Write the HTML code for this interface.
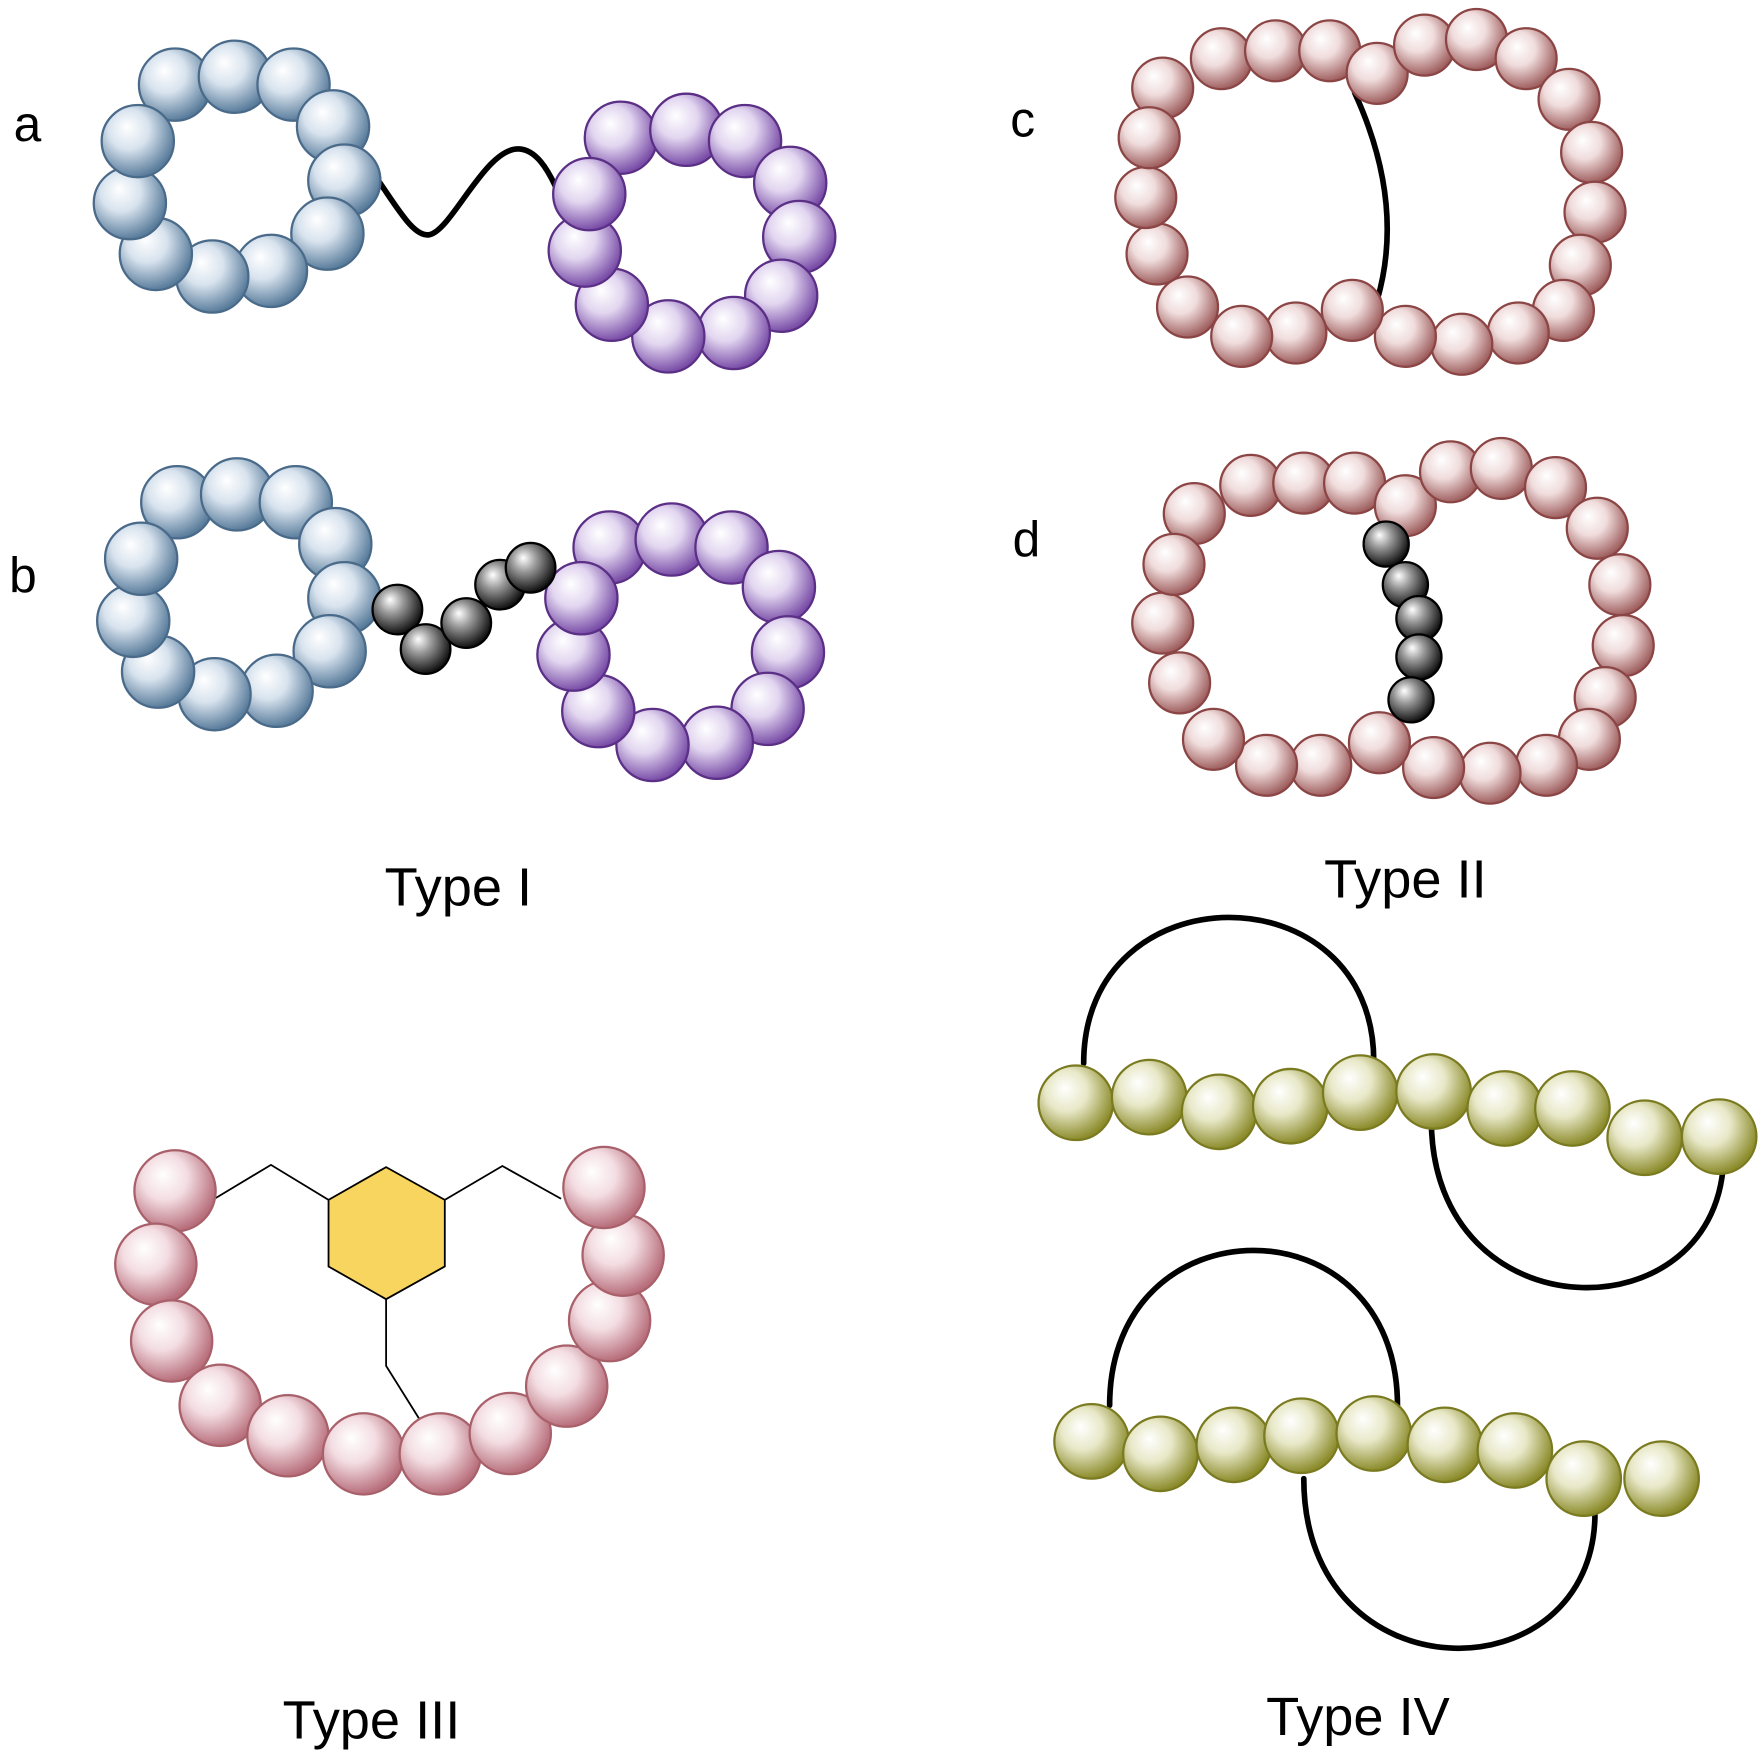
<!DOCTYPE html>
<html><head><meta charset="utf-8"><style>html,body{margin:0;padding:0;background:#fff}svg{display:block}</style></head>
<body>
<svg xmlns="http://www.w3.org/2000/svg" width="1761" height="1762" viewBox="0 0 1560 1561">
<defs>
<radialGradient id="gb" cx="0.4" cy="0.38" r="0.62" fx="0.35" fy="0.3"><stop offset="0" stop-color="#fff"/><stop offset="0.45" stop-color="#d8e3ee"/><stop offset="1" stop-color="#5a7d9c"/></radialGradient>
<radialGradient id="gp" cx="0.4" cy="0.38" r="0.62" fx="0.35" fy="0.3"><stop offset="0" stop-color="#fff"/><stop offset="0.45" stop-color="#e2d6f0"/><stop offset="1" stop-color="#7a4ea8"/></radialGradient>
<radialGradient id="gr" cx="0.4" cy="0.38" r="0.62" fx="0.35" fy="0.3"><stop offset="0" stop-color="#fff"/><stop offset="0.45" stop-color="#f0dcdc"/><stop offset="1" stop-color="#a06060"/></radialGradient>
<radialGradient id="gq" cx="0.4" cy="0.38" r="0.62" fx="0.35" fy="0.3"><stop offset="0" stop-color="#fff"/><stop offset="0.45" stop-color="#f3dde2"/><stop offset="1" stop-color="#b86f7c"/></radialGradient>
<radialGradient id="go" cx="0.4" cy="0.38" r="0.62" fx="0.35" fy="0.3"><stop offset="0" stop-color="#fff"/><stop offset="0.45" stop-color="#e8e8c8"/><stop offset="1" stop-color="#8c8c2c"/></radialGradient>
<radialGradient id="gk" cx="0.4" cy="0.38" r="0.62" fx="0.35" fy="0.3"><stop offset="0" stop-color="#fff"/><stop offset="0.4" stop-color="#999"/><stop offset="1" stop-color="#111"/></radialGradient>
</defs>
<g font-family="Liberation Sans, sans-serif" fill="#000">
<text x="12" y="125" font-size="44">a</text>
<text x="8" y="525" font-size="44">b</text>
<text x="895" y="121" font-size="44">c</text>
<text x="897" y="493" font-size="44">d</text>
<text x="406" y="802" font-size="48" text-anchor="middle">Type I</text>
<text x="1245" y="795" font-size="48" text-anchor="middle">Type II</text>
<text x="329" y="1540" font-size="48" text-anchor="middle">Type III</text>
<text x="1203" y="1537" font-size="48" text-anchor="middle">Type IV</text>
</g>
<g fill="none" stroke="#000" stroke-width="5" stroke-linecap="round">
<path d="M328,150 C350,180 365,210 380,208 C400,205 430,130 460,132 C475,133 485,150 492,165"/>
<path d="M1200,82 Q1245,180 1220,266"/>
<path d="M960,942 C960,770 1217,770 1217,940"/>
<path d="M1268,992 C1268,1185 1527,1185 1527,1022"/>
<path d="M983,1245 C983,1062 1238,1062 1238,1245"/>
<path d="M1155,1310 C1155,1505 1413,1505 1413,1340"/>
</g>
<g fill="none" stroke="#000" stroke-width="1.6">
<polyline points="190,1062 240,1032 291,1063"/>
<polyline points="394,1063 445,1033 497,1062"/>
<polyline points="342,1151 342,1210 372,1258"/>
</g>
<polygon points="342,1034 394,1063 394,1122 342,1151 291,1122 291,1063" fill="#f7d55f" stroke="#000" stroke-width="1.6"/>
<g id="beads">
<g fill="url(#gb)" stroke="#4a6a8a" stroke-width="2">
<circle cx="155" cy="75" r="32"/><circle cx="208" cy="68" r="32"/><circle cx="260" cy="75" r="32"/><circle cx="295" cy="112" r="32"/><circle cx="305" cy="160" r="32"/><circle cx="290" cy="207" r="32"/><circle cx="240" cy="240" r="32"/><circle cx="188" cy="245" r="32"/><circle cx="138" cy="225" r="32"/><circle cx="115" cy="180" r="32"/><circle cx="122" cy="125" r="32"/>
</g>
<g fill="url(#gp)" stroke="#5a2f85" stroke-width="2">
<circle cx="550" cy="122" r="32"/><circle cx="608" cy="115" r="32"/><circle cx="660" cy="125" r="32"/><circle cx="700" cy="162" r="32"/><circle cx="708" cy="210" r="32"/><circle cx="692" cy="262" r="32"/><circle cx="650" cy="295" r="32"/><circle cx="592" cy="298" r="32"/><circle cx="542" cy="270" r="32"/><circle cx="518" cy="222" r="32"/><circle cx="522" cy="172" r="32"/>
</g>
<g fill="url(#gb)" stroke="#4a6a8a" stroke-width="2">
<circle cx="157" cy="445" r="32"/><circle cx="210" cy="438" r="32"/><circle cx="262" cy="445" r="32"/><circle cx="297" cy="482" r="32"/><circle cx="305" cy="530" r="32"/><circle cx="292" cy="577" r="32"/><circle cx="245" cy="612" r="32"/><circle cx="190" cy="615" r="32"/><circle cx="140" cy="595" r="32"/><circle cx="118" cy="550" r="32"/><circle cx="125" cy="495" r="32"/>
</g>
<g fill="url(#gp)" stroke="#5a2f85" stroke-width="2">
<circle cx="540" cy="485" r="32"/><circle cx="595" cy="478" r="32"/><circle cx="648" cy="485" r="32"/><circle cx="690" cy="520" r="32"/><circle cx="698" cy="578" r="32"/><circle cx="680" cy="628" r="32"/><circle cx="635" cy="658" r="32"/><circle cx="578" cy="660" r="32"/><circle cx="530" cy="630" r="32"/><circle cx="508" cy="580" r="32"/><circle cx="515" cy="530" r="32"/>
</g>
<g fill="url(#gk)" stroke="#000" stroke-width="2">
<circle cx="352" cy="540" r="22"/><circle cx="377" cy="575" r="22"/><circle cx="413" cy="552" r="22"/><circle cx="443" cy="518" r="22"/><circle cx="470" cy="503" r="22"/>
</g>
<g fill="url(#gr)" stroke="#8b4545" stroke-width="2">
<circle cx="1030" cy="78" r="27"/><circle cx="1082" cy="52" r="27"/><circle cx="1130" cy="45" r="27"/><circle cx="1178" cy="45" r="27"/><circle cx="1220" cy="65" r="27"/><circle cx="1262" cy="40" r="27"/><circle cx="1308" cy="35" r="27"/><circle cx="1352" cy="52" r="27"/><circle cx="1390" cy="88" r="27"/><circle cx="1410" cy="135" r="27"/><circle cx="1413" cy="188" r="27"/><circle cx="1400" cy="235" r="27"/><circle cx="1385" cy="275" r="27"/><circle cx="1345" cy="295" r="27"/><circle cx="1295" cy="305" r="27"/><circle cx="1245" cy="298" r="27"/><circle cx="1198" cy="275" r="27"/><circle cx="1148" cy="295" r="27"/><circle cx="1100" cy="298" r="27"/><circle cx="1052" cy="272" r="27"/><circle cx="1025" cy="225" r="27"/><circle cx="1015" cy="175" r="27"/><circle cx="1018" cy="122" r="27"/>
</g>
<g fill="url(#gr)" stroke="#8b4545" stroke-width="2">
<circle cx="1058" cy="455" r="27"/><circle cx="1108" cy="430" r="27"/><circle cx="1155" cy="428" r="27"/><circle cx="1200" cy="428" r="27"/><circle cx="1245" cy="448" r="27"/><circle cx="1285" cy="418" r="27"/><circle cx="1330" cy="415" r="27"/><circle cx="1378" cy="432" r="27"/><circle cx="1415" cy="468" r="27"/><circle cx="1435" cy="518" r="27"/><circle cx="1438" cy="572" r="27"/><circle cx="1422" cy="618" r="27"/><circle cx="1408" cy="655" r="27"/><circle cx="1370" cy="678" r="27"/><circle cx="1320" cy="685" r="27"/><circle cx="1270" cy="680" r="27"/><circle cx="1222" cy="658" r="27"/><circle cx="1170" cy="678" r="27"/><circle cx="1122" cy="678" r="27"/><circle cx="1075" cy="655" r="27"/><circle cx="1045" cy="605" r="27"/><circle cx="1030" cy="552" r="27"/><circle cx="1040" cy="500" r="27"/>
</g>
<g fill="url(#gk)" stroke="#000" stroke-width="2">
<circle cx="1228" cy="482" r="20"/><circle cx="1245" cy="518" r="20"/><circle cx="1257" cy="548" r="20"/><circle cx="1257" cy="582" r="20"/><circle cx="1250" cy="620" r="20"/>
</g>
<g fill="url(#gq)" stroke="#a8606a" stroke-width="2">
<circle cx="155" cy="1055" r="36"/><circle cx="138" cy="1120" r="36"/><circle cx="152" cy="1188" r="36"/><circle cx="195" cy="1245" r="36"/><circle cx="255" cy="1272" r="36"/><circle cx="322" cy="1288" r="36"/><circle cx="390" cy="1288" r="36"/><circle cx="452" cy="1270" r="36"/><circle cx="502" cy="1228" r="36"/><circle cx="540" cy="1170" r="36"/><circle cx="552" cy="1112" r="36"/><circle cx="535" cy="1052" r="36"/>
</g>
<g fill="url(#go)" stroke="#7a7a20" stroke-width="2">
<circle cx="953" cy="977" r="33"/><circle cx="1018" cy="972" r="33"/><circle cx="1080" cy="985" r="33"/><circle cx="1143" cy="980" r="33"/><circle cx="1205" cy="968" r="33"/><circle cx="1270" cy="967" r="33"/><circle cx="1333" cy="982" r="33"/><circle cx="1393" cy="982" r="33"/><circle cx="1457" cy="1008" r="33"/><circle cx="1523" cy="1007" r="33"/>
<circle cx="967" cy="1277" r="33"/><circle cx="1028" cy="1288" r="33"/><circle cx="1093" cy="1280" r="33"/><circle cx="1153" cy="1272" r="33"/><circle cx="1217" cy="1270" r="33"/><circle cx="1280" cy="1280" r="33"/><circle cx="1342" cy="1285" r="33"/><circle cx="1403" cy="1310" r="33"/><circle cx="1472" cy="1310" r="33"/>
</g>
</g>
</svg>
</body></html>
